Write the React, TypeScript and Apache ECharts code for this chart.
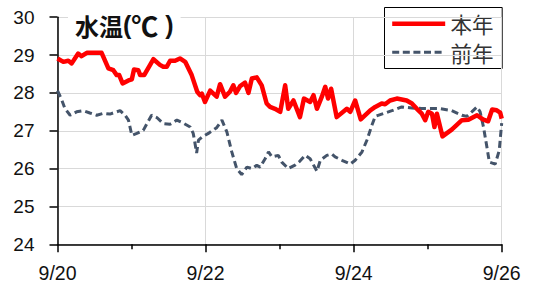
import React, { useEffect, useRef } from "react";
import * as echarts from "echarts";

// Hours since 9/20 00:00
const xTickLabels = ["9/20", "9/22", "9/24", "9/26"];
const yTickLabels = ["24", "25", "26", "27", "28", "29", "30"];
const seriesNames = ["本年", "前年"];
const seriesColors = ["#FF0000", "#44546A"];

const honenHours = [0, 1.9, 3.5, 4.6, 6.7, 7.8, 9.5, 14.3, 16.5, 18.1, 19.2, 20.0, 21.1, 23.0, 24.1, 24.8, 26.2, 26.8, 28.1, 31.1, 33.2, 34.3, 35.4, 36.5, 38.1, 39.7, 41.4, 43.5, 45.3, 46.2, 46.8, 47.8, 49.5, 51.6, 52.7, 54.3, 55.9, 57.0, 57.9, 59.2, 60.8, 61.9, 63.0, 64.6, 66.2, 67.8, 68.9, 70.5, 72.2, 73.8, 74.8, 76.5, 78.6, 79.9, 81.9, 83.0, 84.1, 85.7, 86.8, 87.7, 88.7, 90.5, 93.8, 94.9, 96.5, 98.3, 101.4, 103.0, 105.1, 106.2, 107.8, 110.0, 113.2, 114.9, 116.5, 118.1, 119.2, 120.2, 121.4, 122.2, 123.0, 124.8, 127.8, 131.1, 133.2, 136.0, 137.9, 139.6, 140.9, 142.4, 143.5, 144];
const honenValues = [28.91, 28.82, 28.85, 28.78, 29.04, 28.97, 29.06, 29.06, 28.65, 28.6, 28.47, 28.47, 28.25, 28.33, 28.36, 28.62, 28.6, 28.47, 28.47, 28.89, 28.74, 28.69, 28.69, 28.85, 28.85, 28.91, 28.82, 28.47, 28.03, 27.94, 27.98, 27.76, 28.06, 27.9, 28.23, 27.9, 28.03, 28.2, 28.0, 28.18, 28.27, 28.0, 28.38, 28.41, 28.2, 27.72, 27.63, 27.58, 27.5, 28.2, 27.58, 27.8, 27.36, 27.85, 27.76, 27.94, 27.58, 27.9, 28.16, 27.85, 28.11, 27.36, 27.58, 27.5, 27.8, 27.3, 27.54, 27.63, 27.72, 27.7, 27.8, 27.85, 27.8, 27.72, 27.58, 27.45, 27.28, 27.5, 27.45, 27.1, 27.45, 26.85, 27.03, 27.28, 27.29, 27.41, 27.3, 27.25, 27.56, 27.54, 27.48, 27.32];

const zennenHours = [0, 1.4, 2.4, 4.1, 6.2, 8.4, 10.5, 12.7, 14.9, 17.0, 20.3, 21.9, 23.0, 24.1, 25.7, 27.8, 30.5, 32.2, 34.3, 36.5, 38.7, 40.8, 43.0, 44.0, 44.4, 45.1, 45.7, 46.8, 48.9, 51.6, 53.3, 54.9, 56.5, 58.1, 59.7, 61.4, 63.0, 64.6, 65.7, 67.3, 68.4, 69.5, 71.6, 72.7, 74.8, 77.0, 78.6, 80.3, 81.9, 84.1, 85.2, 87.3, 88.9, 90.0, 92.2, 94.9, 96.5, 98.7, 100.3, 101.9, 103.0, 105.1, 108.4, 111.6, 114.9, 118.1, 123.5, 127.8, 131.1, 132.7, 134.3, 136.0, 137.0, 138.1, 139.2, 140.0, 141.9, 143.2, 144];
const zennenValues = [28.06, 27.81, 27.59, 27.41, 27.5, 27.53, 27.47, 27.41, 27.46, 27.44, 27.53, 27.41, 27.28, 26.88, 26.93, 27.01, 27.41, 27.35, 27.19, 27.17, 27.28, 27.2, 27.1, 26.93, 26.75, 26.41, 26.75, 26.83, 26.93, 27.08, 27.28, 26.97, 26.44, 26.0, 25.84, 26.04, 26.0, 26.09, 26.04, 26.26, 26.44, 26.31, 26.35, 26.17, 26.0, 26.09, 26.2, 26.35, 26.26, 25.93, 26.22, 26.35, 26.39, 26.31, 26.22, 26.12, 26.22, 26.44, 26.75, 27.14, 27.38, 27.44, 27.53, 27.63, 27.6, 27.59, 27.59, 27.53, 27.41, 27.38, 27.5, 27.63, 27.5, 27.1, 26.57, 26.17, 26.12, 26.48, 27.2];

const zip = (xs: number[], ys: number[]) => xs.map((x, i) => [x, ys[i]]);

const LATIN = "'Liberation Sans', 'Noto Sans CJK JP', sans-serif";
const CJK = "'Noto Sans CJK JP', 'Liberation Sans', sans-serif";

export default function App() {
  const ref = useRef<HTMLDivElement>(null);
  useEffect(() => {
    if (!ref.current) return;
    const chart = echarts.init(ref.current, undefined, { renderer: "svg" });
    chart.setOption({
      animation: false,
      backgroundColor: "#ffffff",
      textStyle: { fontFamily: LATIN },
      title: {
        text: "{a|水温}{b|(}{c|℃}{b| )}",
        left: 68,
        top: 11,
        padding: [0, 7],
        backgroundColor: "#ffffff",
        textStyle: {
          rich: {
            a: { fontFamily: CJK, fontSize: 24, fontWeight: "bold", color: "#111111", lineHeight: 28 },
            b: { fontFamily: LATIN, fontSize: 25, fontWeight: "bold", color: "#111111", lineHeight: 28 },
            c: { fontFamily: CJK, fontSize: 27, fontWeight: "bold", color: "#111111", lineHeight: 28 },
          },
        },
      },
      grid: { left: 57.5, right: 33.3, top: 17.2, bottom: 49.7, containLabel: false },
      xAxis: {
        type: "value",
        min: 0,
        max: 144,
        interval: 48,
        axisLine: { show: true, onZero: false, lineStyle: { color: "#000000", width: 1.5 } },
        axisTick: { show: true, length: 8, lineStyle: { color: "#000000", width: 1.5 } },
        minorTick: { show: true, splitNumber: 2, length: 5, lineStyle: { color: "#000000", width: 1.5 } },
        splitLine: { show: true, lineStyle: { color: "#D9D9D9", width: 1 } },
        axisLabel: {
          margin: 19,
          fontSize: 19.5,
          color: "#111111",
          formatter: (v: number) => xTickLabels[Math.round(v / 48)] ?? "",
        },
      },
      yAxis: {
        type: "value",
        min: 24,
        max: 30,
        interval: 1,
        axisLine: { show: true, lineStyle: { color: "#000000", width: 1.5 } },
        axisTick: { show: true, length: 8, lineStyle: { color: "#000000", width: 1.5 } },
        splitLine: { show: true, lineStyle: { color: "#D9D9D9", width: 1 } },
        axisLabel: {
          margin: 23,
          fontSize: 19,
          color: "#111111",
          formatter: (v: number) => yTickLabels[Math.round(v - 24)] ?? "",
        },
      },
      graphic: [
        {
          type: "group",
          left: 384,
          top: 7,
          z: 100,
          children: [
            {
              type: "rect",
              shape: { x: 0, y: 0, width: 117.7, height: 61 },
              style: { fill: "#ffffff", stroke: "#000000", lineWidth: 1 },
            },
            {
              type: "line",
              shape: { x1: 7.7, y1: 16.3, x2: 60.7, y2: 16.3 },
              style: { stroke: seriesColors[0], lineWidth: 4.5 },
            },
            {
              type: "text",
              x: 66,
              y: 16.3,
              style: {
                text: seriesNames[0],
                fontFamily: CJK,
                fontSize: 21.5,
                lineHeight: 22,
                fill: "#333333",
                verticalAlign: "middle",
                align: "left",
              },
            },
            {
              type: "line",
              shape: { x1: 7.7, y1: 44.7, x2: 60.7, y2: 44.7 },
              style: { stroke: seriesColors[1], lineWidth: 3, lineDash: [7, 3.6] },
            },
            {
              type: "text",
              x: 66,
              y: 44.7,
              style: {
                text: seriesNames[1],
                fontFamily: CJK,
                fontSize: 21.5,
                lineHeight: 22,
                fill: "#333333",
                verticalAlign: "middle",
                align: "left",
              },
            },
          ],
        },
      ],
      series: [
        {
          name: seriesNames[0],
          type: "line",
          data: zip(honenHours, honenValues),
          symbol: "none",
          smooth: false,
          z: 4,
          lineStyle: { color: seriesColors[0], width: 4.5, join: "round" },
          itemStyle: { color: seriesColors[0] },
        },
        {
          name: seriesNames[1],
          type: "line",
          data: zip(zennenHours, zennenValues),
          symbol: "none",
          smooth: false,
          z: 3,
          lineStyle: { color: seriesColors[1], width: 3, type: [7, 4], cap: "butt" },
          itemStyle: { color: seriesColors[1] },
        },
      ],
    });
    return () => chart.dispose();
  }, []);
  return (
    <div
      ref={ref}
      style={{ position: "fixed", left: 0, top: 0, width: 535, height: 294 }}
    />
  );
}
